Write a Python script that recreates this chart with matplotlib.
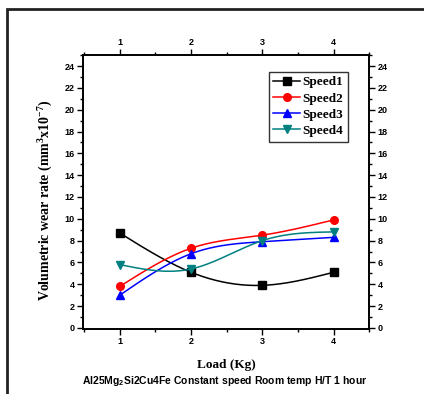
import numpy as np
import matplotlib
matplotlib.use("Agg")
import matplotlib.pyplot as plt
from matplotlib.ticker import MultipleLocator
from matplotlib.patches import Rectangle

# data
loads = [1, 2, 3, 4]
speed1 = [8.7, 5.1, 3.9, 5.1]
speed2 = [3.8, 7.3, 8.5, 9.9]
speed3 = [3.0, 6.8, 7.9, 8.3]
speed4 = [5.8, 5.4, 8.0, 8.8]
series_names = ["Speed1", "Speed2", "Speed3", "Speed4"]
colors = ["black", "red", "blue", "#008080"]
markers = ["s", "o", "^", "v"]

plt.rcParams["mathtext.fontset"] = "custom"
plt.rcParams["mathtext.rm"] = "Liberation Serif:bold"
plt.rcParams["mathtext.it"] = "Liberation Serif:bold"
plt.rcParams["mathtext.bf"] = "Liberation Serif:bold"
plt.rcParams["mathtext.sf"] = "Liberation Sans:bold"


def natural_spline(x, y, n=200):
    # natural cubic spline through the points, just for drawing smooth lines
    x = np.asarray(x, float)
    y = np.asarray(y, float)
    k = len(x)
    h = np.diff(x)
    A = np.zeros((k, k))
    b = np.zeros(k)
    A[0, 0] = A[-1, -1] = 1
    for i in range(1, k - 1):
        A[i, i - 1] = h[i - 1]
        A[i, i] = 2 * (h[i - 1] + h[i])
        A[i, i + 1] = h[i]
        b[i] = 6 * ((y[i + 1] - y[i]) / h[i] - (y[i] - y[i - 1]) / h[i - 1])
    m = np.linalg.solve(A, b)
    xs = np.linspace(x[0], x[-1], n)
    idx = np.clip(np.searchsorted(x, xs) - 1, 0, k - 2)
    x0, x1 = x[idx], x[idx + 1]
    hh = x1 - x0
    t0, t1 = x1 - xs, xs - x0
    ys = (m[idx] * t0**3 / (6 * hh) + m[idx + 1] * t1**3 / (6 * hh)
          + (y[idx] / hh - m[idx] * hh / 6) * t0
          + (y[idx + 1] / hh - m[idx + 1] * hh / 6) * t1)
    return xs, ys


fig = plt.figure(figsize=(4.24, 3.94), dpi=100)
ax = fig.add_axes([0.195, 0.165, 0.676, 0.695])

for vals, name, c, mk in zip([speed1, speed2, speed3, speed4], series_names, colors, markers):
    xs, ys = natural_spline(loads, vals)
    ax.plot(xs, ys, color=c, lw=1.1)
    ax.plot(loads, vals, ls="none", marker=mk, color=c, ms=5.5)
    ax.plot([], [], color=c, lw=1.1, marker=mk, ms=5.5, label=name)

ax.set_xlim(0.48, 4.5)
ax.set_ylim(-0.1, 25)
ax.xaxis.set_major_locator(MultipleLocator(1))
ax.xaxis.set_minor_locator(MultipleLocator(0.5))
ax.yaxis.set_major_locator(MultipleLocator(2))
ax.yaxis.set_minor_locator(MultipleLocator(1))
ax.tick_params(which="both", direction="out", top=True, right=True,
               labeltop=True, labelright=True, width=1)
ax.tick_params(which="major", length=4, labelsize=6.5, pad=2)
ax.tick_params(which="minor", length=2)
for lab in ax.get_xticklabels(which="both") + ax.get_yticklabels(which="both"):
    lab.set_fontweight("bold")
    lab.set_family("Liberation Sans")
for sp in ax.spines.values():
    sp.set_linewidth(1.4)

ax.set_xlabel("Load (Kg)", family="Liberation Serif", fontweight="bold",
              fontsize=9.5, labelpad=9)
ax.set_ylabel("Volumetric wear rate (mm$^3$x10$^{-7}$)", family="Liberation Serif",
              fontweight="bold", fontsize=10)
ax.yaxis.set_label_coords(-0.095, 0.47)

leg = ax.legend(loc="upper right", bbox_to_anchor=(0.925, 0.94),
                prop={"family": "Liberation Serif", "weight": "bold", "size": 9.5},
                frameon=True, fancybox=False, handlelength=2.0,
                borderpad=0.35, labelspacing=0.3, handletextpad=0.2,
                borderaxespad=0)
leg.get_frame().set_edgecolor("black")
leg.get_frame().set_linewidth(1.0)

fig.text(0.53, 0.032, r"Al25Mg$_\mathsf{2}$Si2Cu4Fe Constant speed Room temp H/T 1 hour",
         ha="center", va="center", family="Liberation Sans", fontweight="bold",
         fontsize=7.5)

# outer frame, only top and left edges fall inside the picture
fig.patches.append(Rectangle((7 / 424, -0.1), 1.2, 1 - 9 / 394 + 0.1,
                             transform=fig.transFigure, fill=False,
                             edgecolor="#222222", lw=2))

fig.savefig("out.png", dpi=100)
